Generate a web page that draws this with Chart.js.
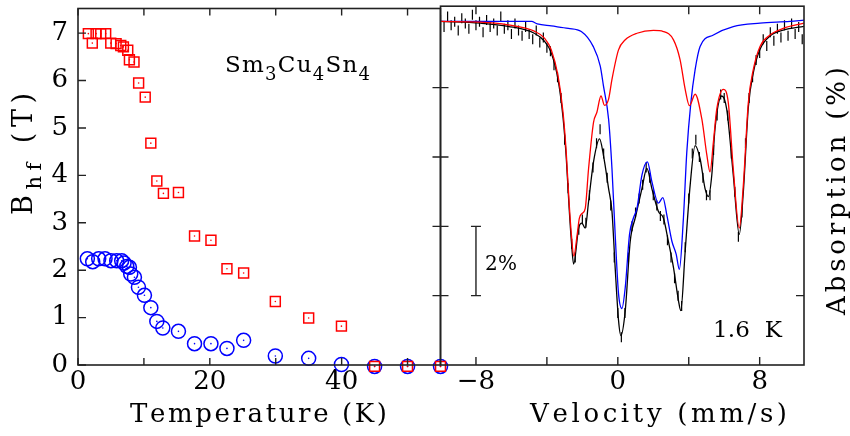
<!DOCTYPE html>
<html><head><meta charset="utf-8">
<script src="https://cdn.jsdelivr.net/npm/chart.js@4.4.1/dist/chart.umd.min.js"></script>
<style>
html,body{margin:0;padding:0;background:#fff;}
#wrap{position:relative;width:850px;height:436px;}
canvas{position:absolute;left:0;top:0;}
</style></head><body>
<div id="wrap"><canvas id="left" width="850" height="436"></canvas><canvas id="right" width="850" height="436"></canvas></div>
<script>
// ---------- Left panel data: hyperfine field vs temperature ----------
const temperatureRed = [1.57, 2.17, 2.74, 3.45, 4.2, 4.97, 5.78, 6.49, 6.89, 7.55, 7.8, 8.5, 9.2, 10.2, 11.05, 11.96, 12.96, 15.24, 17.68, 20.17, 22.6, 25.13, 29.94, 35.0, 39.97, 45.0, 50.0, 55.0];
const bhfRed = [6.99, 6.79, 6.99, 6.99, 6.99, 6.79, 6.78, 6.74, 6.71, 6.64, 6.44, 6.39, 5.95, 5.65, 4.68, 3.88, 3.62, 3.64, 2.72, 2.63, 2.03, 1.94, 1.34, 0.99, 0.82, -0.03, -0.03, -0.03];
const temperatureBlue = [1.42, 2.23, 3.14, 4.1, 5.0, 5.87, 6.63, 6.99, 7.4, 7.8, 8.0, 8.56, 9.17, 10.08, 11.05, 11.96, 12.87, 15.24, 17.68, 20.17, 22.6, 25.13, 29.94, 35.0, 39.97, 45.0, 50.0, 55.0];
const bhfBlue = [2.24, 2.18, 2.24, 2.24, 2.2, 2.2, 2.2, 2.15, 2.08, 2.06, 1.92, 1.85, 1.64, 1.47, 1.21, 0.92, 0.78, 0.71, 0.45, 0.45, 0.35, 0.52, 0.19, 0.14, 0.01, -0.03, -0.03, -0.03];
const leftXLabels = [0, 20, 40];
const leftXTickMarks = [0, 10, 20, 30, 40, 50];
const leftYLabels = [0, 1, 2, 3, 4, 5, 6, 7];

// ---------- Right panel data: Mossbauer spectrum at 1.6 K ----------
const velocityData = [-10.0,-9.8,-9.6,-9.4,-9.2,-9.0,-8.8,-8.6,-8.4,-8.2,-8.0,-7.8,-7.6,-7.4,-7.2,-7.0,-6.8,-6.6,-6.4,-6.2,-6.0,-5.8,-5.6,-5.4,-5.2,-5.0,-4.8,-4.6,-4.4,-4.2,-4.0,-3.8,-3.6,-3.4,-3.2,-3.0,-2.8,-2.6,-2.4,-2.2,-2.0,-1.8,-1.6,-1.4,-1.2,-1.0,-0.8,-0.6,-0.4,-0.2,0.0,0.2,0.4,0.6,0.8,1.0,1.2,1.4,1.6,1.8,2.0,2.2,2.4,2.6,2.8,3.0,3.2,3.4,3.6,3.8,4.0,4.2,4.4,4.6,4.8,5.0,5.2,5.4,5.6,5.8,6.0,6.2,6.4,6.6,6.8,7.0,7.2,7.4,7.6,7.8,8.0,8.2,8.4,8.6,8.8,9.0,9.2,9.4,9.6,9.8,10.0,10.2,10.4];
const absorptionData = [0.05,0.25,-0.05,0.2,0.1,0.35,0.0,0.15,0.3,-0.1,0.2,0.1,0.4,0.05,0.25,0.15,0.35,-0.05,0.3,0.2,0.45,0.15,0.35,0.5,0.25,0.45,0.6,0.35,0.7,0.55,0.85,0.95,1.35,1.7,2.3,3.5,4.9,6.5,6.9,6.1,5.8,5.9,5.1,4.3,3.6,3.2,3.9,4.6,5.4,6.9,8.5,9.2,8.5,6.9,6.0,5.6,5.2,4.8,4.3,4.6,5.1,5.4,5.7,5.8,6.4,6.9,7.5,8.0,8.3,6.6,5.2,3.9,3.5,4.0,4.6,5.1,5.1,3.8,2.8,2.2,2.3,2.8,3.9,5.0,6.3,5.6,3.6,2.3,1.7,1.2,1.0,0.6,0.8,0.4,0.65,0.3,0.55,0.2,0.5,0.15,0.45,0.25,0.6];

const totalFitVelocity = [-10,-7.75,-6.19,-4.71,-4.14,-3.75,-3.37,-3.09,-2.91,-2.75,-2.62,-2.49,-2.21,-2.02,-1.84,-1.65,-1.37,-1.03,-0.81,-0.52,-0.33,-0.15,0.04,0.17,0.42,0.70,0.98,1.36,1.64,1.92,2.29,2.57,2.85,3.14,3.42,3.55,3.80,4.08,4.36,4.64,4.92,5.11,5.30,5.48,5.86,6.14,6.51,6.85,7.08,7.36,7.64,8.02,8.58,9.33,10.5];
const totalFitAbsorption = [0.09,0.14,0.23,0.43,0.66,1.0,1.77,2.86,4.0,5.43,6.43,7.09,6.05,5.91,6.05,5.29,4.14,3.48,3.95,4.91,5.57,7.19,8.71,9.15,8.43,6.43,5.76,4.91,4.33,4.91,5.57,5.76,6.43,7.19,8.14,8.43,6.71,4.81,3.67,4.05,4.91,5.14,4.52,3.19,2.24,2.62,4.51,6.23,5.0,2.57,1.57,0.89,0.51,0.34,0.23];

const redFitVelocity = [-10,-7.75,-6.19,-4.71,-4.14,-3.75,-3.37,-3.09,-2.91,-2.75,-2.62,-2.48,-2.29,-2.17,-2.02,-1.84,-1.65,-1.37,-1.18,-0.95,-0.75,-0.52,-0.33,0.04,0.42,1.08,2.01,2.57,3.14,3.51,3.80,4.04,4.36,4.74,5.02,5.2,5.39,5.58,5.95,6.23,6.51,6.85,7.08,7.36,7.64,8.02,8.58,9.33,10.5];
const redFitAbsorption = [0.09,0.11,0.19,0.37,0.57,0.91,1.66,2.71,3.86,5.29,6.23,6.86,6.23,5.77,5.63,5.49,4.34,3.0,2.71,2.24,2.51,2.33,1.76,0.91,0.62,0.43,0.35,0.38,0.62,1.19,2.05,2.52,2.19,2.91,3.94,4.43,3.57,2.62,2.05,2.43,4.33,6.05,4.8,2.43,1.48,0.81,0.48,0.29,0.14];

const blueFitVelocity = [-10,-4.87,-4.54,-3.75,-2.79,-2.06,-1.39,-0.99,-0.81,-0.52,-0.33,-0.15,0.04,0.23,0.42,0.66,0.88,1.08,1.36,1.67,1.92,2.29,2.54,2.76,3.05,3.29,3.47,3.70,3.89,4.12,4.36,4.64,5.39,6.51,8.02,9.71,10.5];
const blueFitAbsorption = [0.09,0.09,0.16,0.22,0.29,0.38,0.81,1.38,1.95,2.91,4.33,6.23,7.94,8.37,7.76,6.23,5.76,5.48,4.52,4.14,4.71,5.33,5.17,5.66,6.43,6.8,7.24,5.76,3.86,2.43,1.48,0.81,0.48,0.24,0.14,0.09,0.05];

const rightXLabels = [-8, 0, 8];
const rightXTickMarks = [-8, -4, 0, 4, 8];
const rightYTickMarks = [2, 4, 6, 8];
const scaleBarVelocity = -8;
const scaleBarRange = [6, 8];   // 2 % absorption

// ---------- texts ----------
const leftXTitle = 'Temperature (K)';
const rightXTitle = 'Velocity (mm/s)';
const rightYTitle = 'Absorption (%)';
const scaleBarText = '2%';
const temperatureNote = '1.6  K';

const FONT = '"DejaVu Serif", serif';
const zip = (xs, ys) => xs.map((x, i) => ({x, y: ys[i]}));

function drawRuns(ctx, runs, x0, y, width) {
  const chars = [];
  runs.forEach(r => { for (const c of r.t) chars.push({c, size: r.size, dy: r.dy || 0}); });
  let nat = 0;
  chars.forEach(ch => { ctx.font = ch.size + 'px ' + FONT; ch.w = ctx.measureText(ch.c).width; nat += ch.w; });
  const extra = chars.length > 1 ? (width - nat) / (chars.length - 1) : 0;
  let x = x0;
  ctx.textAlign = 'left'; ctx.textBaseline = 'alphabetic';
  chars.forEach(ch => { ctx.font = ch.size + 'px ' + FONT; ctx.fillText(ch.c, x, y + ch.dy); x += ch.w + extra; });
}

function frame(ctx, a) {
  ctx.save();
  ctx.strokeStyle = '#222'; ctx.lineWidth = 1.6;
  ctx.strokeRect(a.left, a.top, a.right - a.left, a.bottom - a.top);
  ctx.restore();
}

const noPad = s => { s.paddingTop = 0; s.paddingBottom = 0; s.paddingLeft = 0; s.paddingRight = 0; };

const leftDeco = {
  id: 'leftDeco',
  afterDraw(chart) {
    const {ctx, chartArea: a, scales: {x, y}} = chart;
    frame(ctx, a);
    ctx.save();
    ctx.strokeStyle = '#222'; ctx.lineWidth = 1.4;
    ctx.beginPath();
    leftXTickMarks.forEach(v => {
      const px = x.getPixelForValue(v);
      ctx.moveTo(px, a.bottom); ctx.lineTo(px, a.bottom - 7);
      ctx.moveTo(px, a.top); ctx.lineTo(px, a.top + 7);
    });
    leftYLabels.forEach(v => {
      const py = y.getPixelForValue(v);
      ctx.moveTo(a.left, py); ctx.lineTo(a.left + 8, py);
    });
    ctx.stroke();
    ctx.fillStyle = '#000';
    drawRuns(ctx, [{t: leftXTitle, size: 26}], 130, 422, 257);
    drawRuns(ctx, [{t: 'Sm', size: 23}, {t: '3', size: 18, dy: 8}, {t: 'Cu', size: 23}, {t: '4', size: 18, dy: 8}, {t: 'Sn', size: 23}, {t: '4', size: 18, dy: 8}], 225, 72, 145);
    ctx.translate(32, 215); ctx.rotate(-Math.PI / 2);
    drawRuns(ctx, [{t: 'B', size: 27}, {t: 'hf', size: 21, dy: 9}, {t: ' (T)', size: 27}], 0, 0, 122);
    ctx.restore();
  }
};

const rightDeco = {
  id: 'rightDeco',
  afterDraw(chart) {
    const {ctx, chartArea: a, scales: {x, y}} = chart;
    frame(ctx, a);
    ctx.save();
    ctx.strokeStyle = '#222'; ctx.lineWidth = 1.4;
    ctx.beginPath();
    rightXTickMarks.forEach(v => {
      const px = x.getPixelForValue(v);
      ctx.moveTo(px, a.bottom); ctx.lineTo(px, a.bottom - 8);
      ctx.moveTo(px, a.top); ctx.lineTo(px, a.top + 8);
    });
    rightYTickMarks.forEach(v => {
      const py = y.getPixelForValue(v);
      ctx.moveTo(a.left - 8, py); ctx.lineTo(a.left + 8, py);
      ctx.moveTo(a.right, py); ctx.lineTo(a.right - 8, py);
    });
    // 2% scale bar
    const bx = x.getPixelForValue(scaleBarVelocity);
    const b0 = y.getPixelForValue(scaleBarRange[0]);
    const b1 = y.getPixelForValue(scaleBarRange[1]);
    ctx.moveTo(bx, b0); ctx.lineTo(bx, b1);
    ctx.moveTo(bx - 5, b0); ctx.lineTo(bx + 5, b0);
    ctx.moveTo(bx - 5, b1); ctx.lineTo(bx + 5, b1);
    ctx.stroke();
    ctx.fillStyle = '#000';
    drawRuns(ctx, [{t: scaleBarText, size: 20}], 485, 270, 32);
    drawRuns(ctx, [{t: temperatureNote, size: 23}], 713, 337, 69);
    drawRuns(ctx, [{t: rightXTitle, size: 26}], 530, 422, 257);
    ctx.translate(845, 315); ctx.rotate(-Math.PI / 2);
    drawRuns(ctx, [{t: rightYTitle, size: 26}], 0, 0, 248);
    ctx.restore();
  }
};

const tickFont = {family: FONT, size: 26};
const minus = v => (v < 0 ? '\u2212' + Math.abs(v) : String(v));

new Chart(document.getElementById('left'), {
  type: 'scatter',
  data: {datasets: [
    {data: zip(temperatureRed, bhfRed), pointStyle: 'circle', pointRadius: 0.8, borderWidth: 0, backgroundColor: '#f00', clip: false},
    {data: zip(temperatureBlue, bhfBlue), pointStyle: 'circle', pointRadius: 0.8, borderWidth: 0, backgroundColor: '#00f', clip: false},
    {data: zip(temperatureRed, bhfRed), pointStyle: 'rect', pointRadius: 7, borderWidth: 1.5, borderColor: '#ff0000', backgroundColor: 'rgba(0,0,0,0)', clip: false},
    {data: zip(temperatureBlue, bhfBlue), pointStyle: 'circle', pointRadius: 7, borderWidth: 1.5, borderColor: '#0000ff', backgroundColor: 'rgba(0,0,0,0)', clip: false}
  ]},
  options: {
    responsive: false, animation: false, events: [],
    layout: {padding: {left: 0, top: 3, right: 409.5, bottom: 0}},
    plugins: {legend: {display: false}, tooltip: {enabled: false}},
    scales: {
      x: {type: 'linear', min: 0, max: 55,
        grid: {display: false, drawTicks: false}, border: {display: false},
        afterBuildTicks: s => { s.ticks = leftXLabels.map(v => ({value: v})); },
        afterFit: s => { s.height = 71; noPad(s); },
        ticks: {font: tickFont, color: '#000', padding: 2, maxRotation: 0, autoSkip: false}},
      y: {type: 'linear', min: 0, max: 7.52,
        grid: {display: false, drawTicks: false}, border: {display: false},
        afterBuildTicks: s => { s.ticks = leftYLabels.map(v => ({value: v})); },
        afterFit: s => { s.width = 78; noPad(s); },
        ticks: {font: tickFont, color: '#000', padding: 10, autoSkip: false}}
    }
  },
  plugins: [leftDeco]
});

new Chart(document.getElementById('right'), {
  type: 'scatter',
  data: {datasets: [
    {data: zip(redFitVelocity, redFitAbsorption), showLine: true, pointRadius: 0, borderColor: '#ff0000', borderWidth: 1.3, cubicInterpolationMode: 'monotone'},
    {data: zip(blueFitVelocity, blueFitAbsorption), showLine: true, pointRadius: 0, borderColor: '#0000ff', borderWidth: 1.3, cubicInterpolationMode: 'monotone'},
    {data: zip(totalFitVelocity, totalFitAbsorption), showLine: true, pointRadius: 0, borderColor: '#000', borderWidth: 1.3, cubicInterpolationMode: 'monotone'},
    {data: zip(velocityData, absorptionData), showLine: false, pointStyle: 'line', rotation: 90, pointRadius: 5, borderColor: '#000', borderWidth: 1.2}
  ]},
  options: {
    responsive: false, animation: false, events: [],
    layout: {padding: {left: 440.5, top: 3, right: 46, bottom: 0}},
    plugins: {legend: {display: false}, tooltip: {enabled: false}},
    scales: {
      x: {type: 'linear', min: -10, max: 10.5,
        grid: {display: false, drawTicks: false}, border: {display: false},
        afterBuildTicks: s => { s.ticks = rightXLabels.map(v => ({value: v})); },
        afterFit: s => { s.height = 71; noPad(s); },
        ticks: {font: tickFont, color: '#000', padding: 2, maxRotation: 0, autoSkip: false, callback: minus}},
      y: {type: 'linear', display: false, reverse: true, min: -0.35, max: 10}
    }
  },
  plugins: [rightDeco]
});
</script>
</body></html>
